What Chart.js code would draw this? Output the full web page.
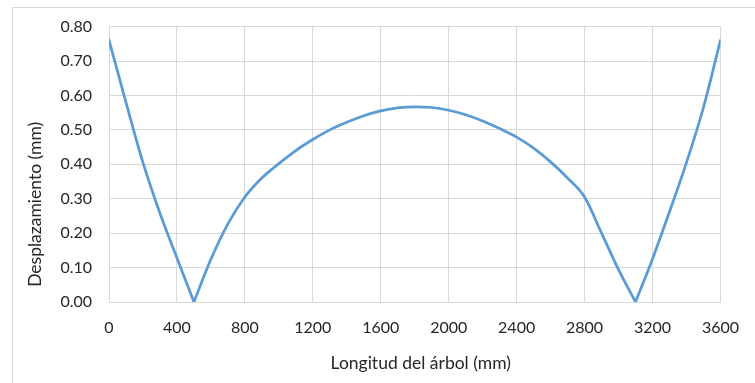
<!DOCTYPE html>
<html>
<head>
<meta charset="utf-8">
<script src="https://cdn.jsdelivr.net/npm/chart.js@4.4.1/dist/chart.umd.min.js"></script>
<style>
  html, body { margin: 0; padding: 0; background: #ffffff; overflow: hidden; }
  #wrap { position: relative; width: 755px; height: 383px; }
  #frame { position: absolute; left: 12px; top: 7px; width: 800px; height: 420px;
           border-top: 1px solid #d9d9d9; border-left: 1px solid #d9d9d9; }
  #c { position: absolute; left: 0; top: 0; }
</style>
</head>
<body>
<div id="wrap">
  <div id="frame"></div>
  <canvas id="c" width="755" height="383"></canvas>
</div>
<script>
// Deflection of the shaft along its length (mm)
const positionsMm = [
  0, 100, 200, 300, 400, 500, 600, 700, 800, 900,
  1000, 1100, 1200, 1300, 1400, 1500, 1600, 1700, 1800, 1900,
  2000, 2100, 2200, 2300, 2400, 2500, 2600, 2700, 2800, 2900,
  3000, 3100, 3200, 3300, 3400, 3500, 3600
];
const displacementMm = [
  0.761, 0.580, 0.405, 0.258, 0.128, 0.000, 0.124, 0.227, 0.305, 0.360,
  0.402, 0.440, 0.472, 0.500, 0.522, 0.541, 0.555, 0.564, 0.567, 0.565,
  0.557, 0.544, 0.526, 0.504, 0.479, 0.447, 0.407, 0.360, 0.305, 0.200,
  0.094, 0.000, 0.125, 0.262, 0.405, 0.565, 0.760
];

const xTickValues = [0, 400, 800, 1200, 1600, 2000, 2400, 2800, 3200, 3600];
const yTickValues = [0, 0.1, 0.2, 0.3, 0.4, 0.5, 0.6, 0.7, 0.8];

const xTitle = 'Longitud del árbol (mm)';
const yTitle = 'Desplazamiento (mm)';

const lineColor = '#5b9bd5';
const gridColor = '#d9d9d9';
const textColor = '#262626';
const fontFamily = 'Lato, "Open Sans", sans-serif';

// Split the curve at the supports (zero deflection) so each span is
// interpolated on its own and the cusps stay sharp.
const points = positionsMm.map((x, i) => ({ x, y: displacementMm[i] }));
const breaks = [0];
displacementMm.forEach((v, i) => { if (v === 0 && i > 0 && i < displacementMm.length - 1) breaks.push(i); });
breaks.push(points.length - 1);
const datasets = [];
for (let k = 0; k < breaks.length - 1; k++) {
  datasets.push({
    label: 'Desplazamiento',
    data: points.slice(breaks[k], breaks[k + 1] + 1),
    borderColor: lineColor,
    borderWidth: 2.75,
    pointRadius: 0,
    fill: false,
    cubicInterpolationMode: 'monotone',
    borderCapStyle: 'round',
    borderJoinStyle: 'round'
  });
}

// Axis titles, placed relative to the plot area
const axisTitlesPlugin = {
  id: 'axisTitles',
  afterDraw(chart) {
    const { ctx, chartArea } = chart;
    ctx.save();
    ctx.font = '17.5px ' + fontFamily;
    ctx.fillStyle = textColor;
    ctx.textAlign = 'center';
    ctx.textBaseline = 'middle';
    ctx.fillText(xTitle, (chartArea.left + chartArea.right) / 2 + 6, chartArea.bottom + 61);
    ctx.translate(35, (chartArea.top + chartArea.bottom) / 2 + 40);
    ctx.rotate(-Math.PI / 2);
    ctx.fillText(yTitle, 0, 0);
    ctx.restore();
  }
};

new Chart(document.getElementById('c'), {
  type: 'line',
  data: { datasets },
  plugins: [axisTitlesPlugin],
  options: {
    responsive: false,
    animation: false,
    devicePixelRatio: 1,
    layout: { padding: { left: 0, right: 24, top: 26, bottom: 0 } },
    plugins: { legend: { display: false }, tooltip: { enabled: false } },
    scales: {
      x: {
        type: 'linear',
        min: 0,
        max: 3600,
        afterBuildTicks: s => { s.ticks = xTickValues.map(v => ({ value: v })); },
        afterFit: s => { s.height = 81; },
        ticks: {
          autoSkip: false,
          maxRotation: 0,
          padding: 16,
          color: textColor,
          font: { family: fontFamily, size: 16 },
          callback: v => String(v)
        },
        grid: { color: gridColor, lineWidth: 1, drawTicks: false },
        border: { color: gridColor, width: 1 }
      },
      y: {
        type: 'linear',
        min: 0,
        max: 0.8,
        afterBuildTicks: s => { s.ticks = yTickValues.map(v => ({ value: v })); },
        afterFit: s => { s.width = 109; },
        ticks: {
          padding: 17,
          color: textColor,
          font: { family: fontFamily, size: 16 },
          callback: v => Number(v).toFixed(2)
        },
        grid: { color: gridColor, lineWidth: 1, drawTicks: false },
        border: { color: gridColor, width: 1 }
      }
    }
  }
});
</script>
</body>
</html>
